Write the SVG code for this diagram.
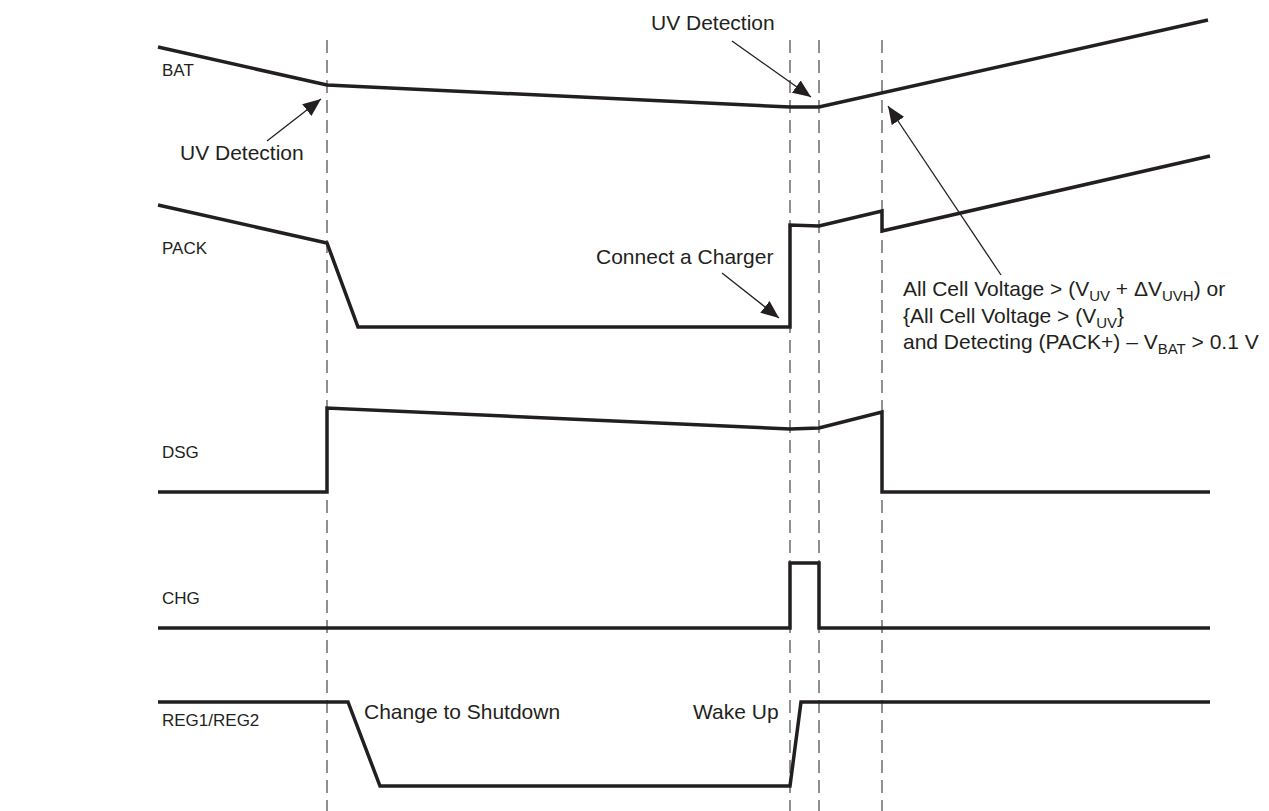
<svg xmlns="http://www.w3.org/2000/svg" width="1269" height="811" viewBox="0 0 1269 811">
<defs>
<style>
.sig{fill:none;stroke:#231f20;stroke-width:3.5;stroke-linejoin:miter}
.dash{fill:none;stroke:#555;stroke-width:1.3;stroke-dasharray:13 7}
.arr{fill:none;stroke:#231f20;stroke-width:1.3}
text{font-family:"Liberation Sans",Arial,sans-serif;font-size:21px;fill:#231f20}
.lbl{font-size:17px}
.sub{font-size:15px}
</style>
<marker id="ah" markerUnits="userSpaceOnUse" markerWidth="18" markerHeight="15" refX="18" refY="7.5" orient="auto">
<path d="M0,0 L18,7.5 L0,15 z" fill="#231f20"/>
</marker>
</defs>
<rect width="1269" height="811" fill="#fff"/>
<g id="guides">
<line class="dash" x1="327" y1="40" x2="327" y2="811"/>
<line class="dash" x1="790" y1="40" x2="790" y2="811"/>
<line class="dash" x1="819" y1="40" x2="819" y2="811"/>
<line class="dash" x1="882" y1="40" x2="882" y2="811"/>
</g>
<g id="BAT">
<text class="lbl" x="162" y="76">BAT</text>
<polyline class="sig" points="158,47 327,85 790,107 819,107 1208,20"/>
</g>
<g id="PACK">
<text class="lbl" x="162" y="254">PACK</text>
<polyline class="sig" points="158,205 327,243 358,327 790,327 790,225 819,226 882,211 882,231 1210,156"/>
</g>
<g id="DSG">
<text class="lbl" x="162" y="458">DSG</text>
<polyline class="sig" points="158,492 327,492 327,408 790,429 819,428 882,412 882,492 1210,492"/>
</g>
<g id="CHG">
<text class="lbl" x="162" y="604">CHG</text>
<polyline class="sig" points="158,628 790,628 790,563 819,563 819,628 1210,628"/>
</g>
<g id="REG">
<text class="lbl" x="162" y="726">REG1/REG2</text>
<polyline class="sig" points="158,702 348,702 380,786 790,786 801,702 1210,702"/>
</g>
<g id="labels">
<text x="180" y="160">UV Detection</text>
<text x="651" y="30">UV Detection</text>
<text x="596" y="264">Connect a Charger</text>
<text x="364" y="719">Change to Shutdown</text>
<text x="693" y="719">Wake Up</text>
<text x="903" y="296">All Cell Voltage &gt; (V<tspan class="sub" dy="5">UV</tspan><tspan dy="-5"> + ΔV</tspan><tspan class="sub" dy="5">UVH</tspan><tspan dy="-5">) or</tspan></text>
<text x="903" y="323">{All Cell Voltage &gt; (V<tspan class="sub" dy="5">UV</tspan><tspan dy="-5">}</tspan></text>
<text x="903" y="349">and Detecting (PACK+) – V<tspan class="sub" dy="5">BAT</tspan><tspan dy="-5"> &gt; 0.1 V</tspan></text>
</g>
<g id="connectors">
<line class="arr" x1="267" y1="141" x2="321" y2="99" marker-end="url(#ah)"/>
<line class="arr" x1="732" y1="41" x2="811" y2="97" marker-end="url(#ah)"/>
<line class="arr" x1="722" y1="273" x2="779" y2="318" marker-end="url(#ah)"/>
<line class="arr" x1="1001" y1="275" x2="888" y2="106" marker-end="url(#ah)"/>
</g>
</svg>
